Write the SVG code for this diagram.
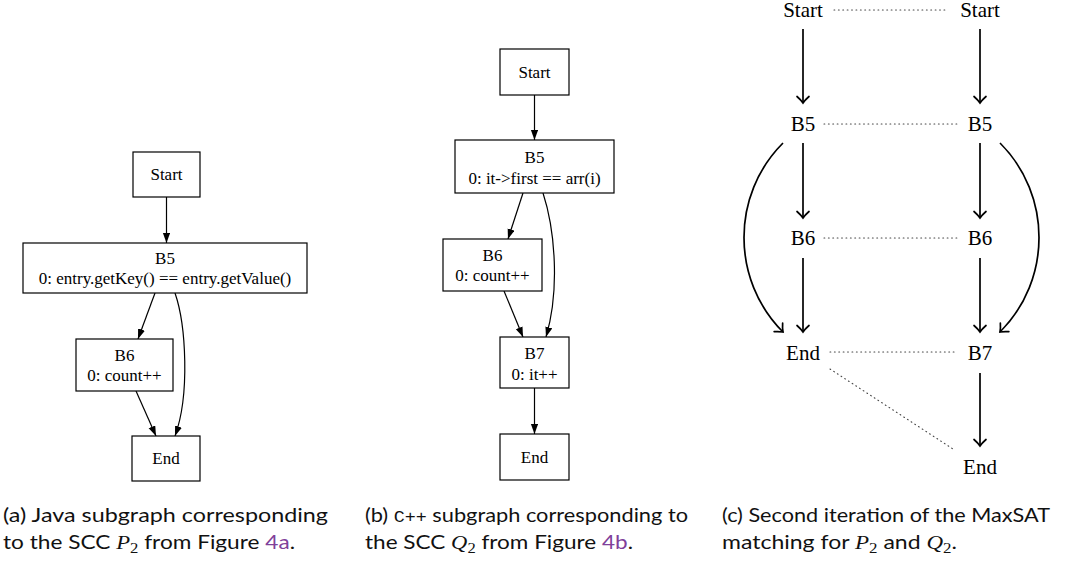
<svg xmlns="http://www.w3.org/2000/svg" width="1070" height="562" viewBox="0 0 1070 562">
<style>
.box{fill:#fff;stroke:#000;stroke-width:1.2}
.nt{font-family:"Liberation Serif","Times New Roman",serif;font-size:17px;text-anchor:middle;fill:#000}
.e{fill:none;stroke:#000;stroke-width:1.2}
.ct{font-family:"Liberation Serif","Times New Roman",serif;font-size:21px;text-anchor:middle;fill:#000}
.m{fill:none;stroke:#000;stroke-width:1.7}
.d{fill:none;stroke:#444;stroke-width:1.1;stroke-dasharray:0.8 3.6;stroke-linecap:round}
.cap{font-family:Lato,"Open Sans",sans-serif;font-size:19px;fill:#111}
.mi{font-family:"Liberation Serif",serif;font-style:italic}
.sub{font-family:"Liberation Serif",serif;font-size:14px}
.ref{fill:#80409a}
.tt{font-family:"Liberation Mono",monospace;font-size:16px}
</style>
<defs>
<marker id="ah" markerUnits="userSpaceOnUse" markerWidth="11" markerHeight="8" refX="10" refY="3.6" orient="auto">
<path d="M0,0 L10,3.6 L0,7.2 z" fill="#000"/>
</marker>
<marker id="to" markerUnits="userSpaceOnUse" markerWidth="14" markerHeight="16" refX="8" refY="8" orient="auto" overflow="visible">
<path d="M1.5,2 Q5,6 8,8 Q5,10 1.5,14" fill="none" stroke="#000" stroke-width="1.7" stroke-linecap="round"/>
</marker>
</defs>

<!-- Panel (a) -->
<g id="a-connectors">
<line class="e" x1="166.5" y1="197" x2="166.5" y2="243" marker-end="url(#ah)"/>
<line class="e" x1="155" y1="293" x2="138" y2="339" marker-end="url(#ah)"/>
<path class="e" d="M175,293 C186,325 190,395 175,436" marker-end="url(#ah)"/>
<line class="e" x1="136" y1="391" x2="156" y2="436" marker-end="url(#ah)"/>
</g>
<g id="a-start"><rect class="box" x="133" y="152" width="67" height="45"/><text class="nt" x="166.5" y="180">Start</text></g>
<g id="a-b5"><rect class="box" x="23" y="243" width="284" height="50"/><text class="nt" x="165" y="264">B5</text><text class="nt" x="165" y="284">0: entry.getKey() == entry.getValue()</text></g>
<g id="a-b6"><rect class="box" x="76" y="339" width="97" height="52"/><text class="nt" x="124.5" y="361">B6</text><text class="nt" x="124.5" y="381">0: count++</text></g>
<g id="a-end"><rect class="box" x="132" y="436" width="68" height="45"/><text class="nt" x="166" y="464">End</text></g>

<!-- Panel (b) -->
<g id="b-connectors">
<line class="e" x1="534.5" y1="95" x2="534.5" y2="140" marker-end="url(#ah)"/>
<line class="e" x1="523" y1="193" x2="508" y2="239" marker-end="url(#ah)"/>
<path class="e" d="M543,193 C555,230 560,290 546,337" marker-end="url(#ah)"/>
<line class="e" x1="504" y1="291" x2="523" y2="337" marker-end="url(#ah)"/>
<line class="e" x1="534.5" y1="388" x2="534.5" y2="434" marker-end="url(#ah)"/>
</g>
<g id="b-start"><rect class="box" x="500" y="49" width="69" height="46"/><text class="nt" x="534.5" y="78">Start</text></g>
<g id="b-b5"><rect class="box" x="455" y="140" width="159" height="53"/><text class="nt" x="534.5" y="163">B5</text><text class="nt" x="534.5" y="184">0: it-&gt;first == arr(i)</text></g>
<g id="b-b6"><rect class="box" x="443" y="239" width="99" height="52"/><text class="nt" x="492.5" y="261">B6</text><text class="nt" x="492.5" y="281">0: count++</text></g>
<g id="b-b7"><rect class="box" x="500" y="337" width="69" height="51"/><text class="nt" x="534.5" y="359">B7</text><text class="nt" x="534.5" y="380">0: it++</text></g>
<g id="b-end"><rect class="box" x="500" y="434" width="69" height="46"/><text class="nt" x="534.5" y="463">End</text></g>

<!-- Panel (c) -->
<g id="c-connectors">
<line class="m" x1="803" y1="29" x2="803" y2="103" marker-end="url(#to)"/>
<line class="m" x1="803" y1="143" x2="803" y2="218" marker-end="url(#to)"/>
<line class="m" x1="803" y1="258" x2="803" y2="332" marker-end="url(#to)"/>
<line class="m" x1="980" y1="29" x2="980" y2="103" marker-end="url(#to)"/>
<line class="m" x1="980" y1="143" x2="980" y2="218" marker-end="url(#to)"/>
<line class="m" x1="980" y1="258" x2="980" y2="332" marker-end="url(#to)"/>
<line class="m" x1="980" y1="373" x2="980" y2="446" marker-end="url(#to)"/>
<path class="m" d="M783,143 C731,195 731,280 783,332" marker-end="url(#to)"/>
<path class="m" d="M1000,143 C1052,195 1052,280 1000,332" marker-end="url(#to)"/>
<line class="d" x1="834" y1="10" x2="947" y2="10"/>
<line class="d" x1="824" y1="124" x2="958" y2="124"/>
<line class="d" x1="824" y1="238" x2="958" y2="238"/>
<line class="d" x1="830" y1="352" x2="957" y2="352"/>
<line class="d" x1="830" y1="369" x2="953" y2="449"/>
</g>
<g id="c-startL"><text class="ct" x="803" y="17">Start</text></g>
<g id="c-startR"><text class="ct" x="980" y="17">Start</text></g>
<g id="c-b5L"><text class="ct" x="803" y="131">B5</text></g>
<g id="c-b5R"><text class="ct" x="980" y="131">B5</text></g>
<g id="c-b6L"><text class="ct" x="803" y="245">B6</text></g>
<g id="c-b6R"><text class="ct" x="980" y="245">B6</text></g>
<g id="c-endL"><text class="ct" x="803" y="360">End</text></g>
<g id="c-b7R"><text class="ct" x="980" y="360">B7</text></g>
<g id="c-endR"><text class="ct" x="980" y="474">End</text></g>

<!-- Captions -->
<g id="captions">
<text class="cap" x="3" y="522" textLength="325" lengthAdjust="spacingAndGlyphs">(a) Java subgraph corresponding</text>
<text class="cap" x="3" y="549" textLength="292" lengthAdjust="spacingAndGlyphs">to the SCC <tspan class="mi">P</tspan><tspan class="sub" dy="4">2</tspan><tspan dy="-4"> from Figure </tspan><tspan class="ref">4a</tspan>.</text>
<text class="cap" x="365" y="522" textLength="323" lengthAdjust="spacingAndGlyphs">(b) <tspan class="tt">C++</tspan> subgraph corresponding to</text>
<text class="cap" x="365" y="549" textLength="268" lengthAdjust="spacingAndGlyphs">the SCC <tspan class="mi">Q</tspan><tspan class="sub" dy="4">2</tspan><tspan dy="-4"> from Figure </tspan><tspan class="ref">4b</tspan>.</text>
<text class="cap" x="722" y="522" textLength="328" lengthAdjust="spacingAndGlyphs">(c) Second iteration of the MaxSAT</text>
<text class="cap" x="722" y="549" textLength="235" lengthAdjust="spacingAndGlyphs">matching for <tspan class="mi">P</tspan><tspan class="sub" dy="4">2</tspan><tspan dy="-4"> and </tspan><tspan class="mi">Q</tspan><tspan class="sub" dy="4">2</tspan><tspan dy="-4">.</tspan></text>
</g>
</svg>
